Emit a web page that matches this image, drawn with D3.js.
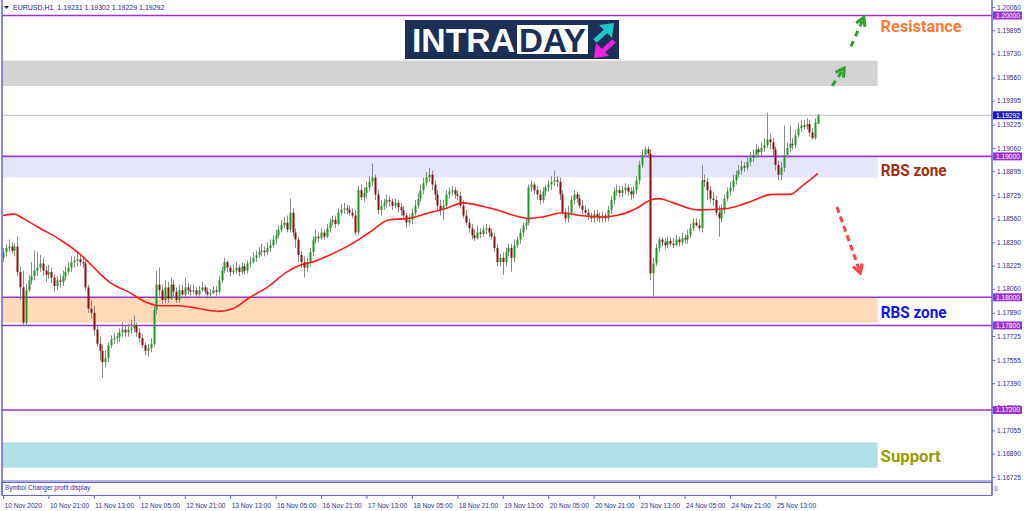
<!DOCTYPE html>
<html><head><meta charset="utf-8">
<script src="https://cdn.jsdelivr.net/npm/d3@7/dist/d3.min.js"></script>
<style>body{margin:0;background:#fff;}svg{display:block;}</style>
</head><body><svg id="c" width="1024" height="511"></svg>
<script>
// ---------------- data ----------------
const symbolTitle = "EURUSD,H1";
const lastQuote = [1.19231, 1.19302, 1.19229, 1.19292];
const timeLabels = ["10 Nov 2020","10 Nov 21:00","11 Nov 13:00","12 Nov 05:00","12 Nov 21:00","13 Nov 13:00","16 Nov 05:00","16 Nov 21:00","17 Nov 13:00","18 Nov 05:00","18 Nov 21:00","19 Nov 13:00","20 Nov 05:00","20 Nov 21:00","23 Nov 13:00","24 Nov 05:00","24 Nov 21:00","25 Nov 13:00"];
const barsPerLabel = 16;
const priceTicks = [1.20060,1.19895,1.19730,1.19560,1.19395,1.19225,1.19060,1.18895,1.18725,1.18560,1.18390,1.18225,1.18060,1.17890,1.17725,1.17555,1.17390,1.17220,1.17055,1.16890,1.16725];
const levelLines = [1.20000, 1.19000, 1.18000, 1.17800, 1.17200];
const zoneLow  = [1.1950, 1.1885, 1.1782, 1.1679];
const zoneHigh = [1.1968, 1.1900, 1.1800, 1.1697];
const zoneEndBar = 308;
const zoneLabels = ["Resistance", "RBS zone", "RBS zone", "Support"];
const zoneLabelPrice = [1.1988, 1.1886, 1.1785, 1.1683];
// [open, high, low, close]
const ohlc = [
[1.1828,1.1835,1.1825,1.1832],[1.1832,1.1838,1.1829,1.1835],[1.1835,1.1841,1.1832,1.1836],[1.1836,1.1839,1.1831,1.1833],[1.1833,1.1838,1.1829,1.1836],
[1.1836,1.1843,1.1815,1.1818],[1.1818,1.1822,1.1798,1.1807],[1.1807,1.1819,1.1780,1.1782],[1.1782,1.1810,1.1780,1.1805],[1.1805,1.1816,1.1804,1.1812],
[1.1812,1.1825,1.1809,1.1815],[1.1815,1.1833,1.1812,1.1819],[1.1819,1.1832,1.1815,1.1821],[1.1821,1.1830,1.1818,1.1824],[1.1824,1.1828,1.1815,1.1819],
[1.1819,1.1822,1.1811,1.1816],[1.1816,1.1823,1.1813,1.1818],[1.1818,1.1821,1.1810,1.1814],[1.1814,1.1816,1.1804,1.1808],[1.1808,1.1815,1.1805,1.1812],
[1.1812,1.1816,1.1807,1.1811],[1.1811,1.1819,1.1808,1.1815],[1.1815,1.1822,1.1812,1.1818],[1.1818,1.1825,1.1816,1.1821],[1.1821,1.1829,1.1818,1.1825],
[1.1825,1.1829,1.1821,1.1826],[1.1826,1.1831,1.1822,1.1827],[1.1827,1.1830,1.1822,1.1825],[1.1825,1.1828,1.1821,1.1824],[1.1824,1.1826,1.1805,1.1807],
[1.1807,1.1809,1.1789,1.1792],[1.1792,1.1798,1.1785,1.1789],[1.1789,1.1794,1.1773,1.1777],[1.1777,1.1780,1.1765,1.1767],[1.1767,1.1772,1.1755,1.1762],
[1.1762,1.1766,1.1743,1.1754],[1.1754,1.1762,1.1750,1.1757],[1.1757,1.1768,1.1754,1.1766],[1.1766,1.1773,1.1764,1.1770],[1.1770,1.1775,1.1767,1.1771],
[1.1771,1.1775,1.1767,1.1772],[1.1772,1.1778,1.1768,1.1775],[1.1775,1.1782,1.1772,1.1777],[1.1777,1.1780,1.1772,1.1775],[1.1775,1.1781,1.1772,1.1777],
[1.1777,1.1784,1.1774,1.1778],[1.1778,1.1787,1.1775,1.1780],[1.1780,1.1782,1.1772,1.1775],[1.1775,1.1778,1.1768,1.1771],[1.1771,1.1774,1.1764,1.1766],
[1.1766,1.1768,1.1759,1.1762],[1.1762,1.1767,1.1758,1.1764],[1.1764,1.1771,1.1761,1.1767],[1.1767,1.1794,1.1765,1.1791],[1.1791,1.1819,1.1788,1.1809],
[1.1809,1.1821,1.1801,1.1805],[1.1805,1.1809,1.1795,1.1798],[1.1798,1.1812,1.1796,1.1807],[1.1807,1.1811,1.1796,1.1799],[1.1799,1.1814,1.1798,1.1809],
[1.1809,1.1812,1.1801,1.1804],[1.1804,1.1807,1.1796,1.1798],[1.1798,1.1809,1.1796,1.1805],[1.1805,1.1809,1.1799,1.1802],[1.1802,1.1814,1.1799,1.1807],
[1.1807,1.1810,1.1802,1.1805],[1.1805,1.1809,1.1801,1.1804],[1.1804,1.1809,1.1802,1.1805],[1.1805,1.1807,1.1799,1.1802],[1.1802,1.1808,1.1800,1.1805],
[1.1805,1.1811,1.1804,1.1807],[1.1807,1.1809,1.1802,1.1804],[1.1804,1.1807,1.1799,1.1802],[1.1802,1.1806,1.1799,1.1803],[1.1803,1.1808,1.1802,1.1805],
[1.1805,1.1808,1.1801,1.1804],[1.1804,1.1815,1.1802,1.1812],[1.1812,1.1822,1.1810,1.1819],[1.1819,1.1828,1.1817,1.1825],[1.1825,1.1826,1.1818,1.1821],
[1.1821,1.1823,1.1815,1.1818],[1.1818,1.1823,1.1816,1.1819],[1.1819,1.1825,1.1817,1.1821],[1.1821,1.1823,1.1815,1.1818],[1.1818,1.1825,1.1816,1.1822],
[1.1822,1.1824,1.1816,1.1819],[1.1819,1.1826,1.1817,1.1824],[1.1824,1.1829,1.1821,1.1825],[1.1825,1.1832,1.1824,1.1828],[1.1828,1.1833,1.1825,1.1830],
[1.1830,1.1836,1.1828,1.1832],[1.1832,1.1838,1.1829,1.1833],[1.1833,1.1836,1.1829,1.1832],[1.1832,1.1839,1.1830,1.1835],[1.1835,1.1841,1.1832,1.1837],
[1.1837,1.1844,1.1835,1.1841],[1.1841,1.1848,1.1838,1.1844],[1.1844,1.1851,1.1842,1.1848],[1.1848,1.1855,1.1846,1.1851],[1.1851,1.1857,1.1849,1.1853],
[1.1853,1.1858,1.1846,1.1848],[1.1848,1.1870,1.1846,1.1860],[1.1860,1.1863,1.1843,1.1846],[1.1846,1.1849,1.1835,1.1841],[1.1841,1.1843,1.1825,1.1830],
[1.1830,1.1833,1.1821,1.1825],[1.1825,1.1829,1.1814,1.1821],[1.1821,1.1828,1.1818,1.1825],[1.1825,1.1835,1.1822,1.1832],[1.1832,1.1843,1.1829,1.1841],
[1.1841,1.1848,1.1838,1.1843],[1.1843,1.1846,1.1839,1.1842],[1.1842,1.1849,1.1841,1.1846],[1.1846,1.1848,1.1841,1.1843],[1.1843,1.1852,1.1842,1.1849],
[1.1849,1.1856,1.1846,1.1853],[1.1853,1.1858,1.1851,1.1855],[1.1855,1.1858,1.1849,1.1852],[1.1852,1.1863,1.1851,1.1860],[1.1860,1.1866,1.1858,1.1862],
[1.1862,1.1867,1.1859,1.1863],[1.1863,1.1866,1.1859,1.1862],[1.1862,1.1865,1.1858,1.1860],[1.1860,1.1863,1.1856,1.1858],[1.1858,1.1862,1.1844,1.1846],
[1.1846,1.1879,1.1844,1.1876],[1.1876,1.1880,1.1869,1.1871],[1.1871,1.1878,1.1868,1.1874],[1.1874,1.1882,1.1870,1.1878],[1.1878,1.1886,1.1875,1.1882],
[1.1882,1.1895,1.1879,1.1885],[1.1885,1.1887,1.1869,1.1873],[1.1873,1.1876,1.1859,1.1862],[1.1862,1.1869,1.1858,1.1865],[1.1865,1.1870,1.1862,1.1867],
[1.1867,1.1873,1.1863,1.1869],[1.1869,1.1872,1.1864,1.1868],[1.1868,1.1870,1.1862,1.1865],[1.1865,1.1870,1.1863,1.1867],[1.1867,1.1869,1.1860,1.1864],
[1.1864,1.1867,1.1858,1.1862],[1.1862,1.1865,1.1855,1.1858],[1.1858,1.1860,1.1849,1.1853],[1.1853,1.1859,1.1851,1.1855],[1.1855,1.1863,1.1852,1.1860],
[1.1860,1.1869,1.1858,1.1865],[1.1865,1.1874,1.1863,1.1870],[1.1870,1.1880,1.1868,1.1876],[1.1876,1.1885,1.1873,1.1881],[1.1881,1.1889,1.1879,1.1885],
[1.1885,1.1892,1.1882,1.1887],[1.1887,1.1890,1.1876,1.1880],[1.1880,1.1883,1.1869,1.1873],[1.1873,1.1876,1.1862,1.1865],[1.1865,1.1869,1.1858,1.1862],
[1.1862,1.1869,1.1855,1.1865],[1.1865,1.1876,1.1863,1.1873],[1.1873,1.1878,1.1870,1.1875],[1.1875,1.1879,1.1872,1.1876],[1.1876,1.1878,1.1870,1.1873],
[1.1873,1.1876,1.1869,1.1872],[1.1872,1.1875,1.1863,1.1865],[1.1865,1.1869,1.1856,1.1858],[1.1858,1.1862,1.1851,1.1853],[1.1853,1.1856,1.1846,1.1849],
[1.1849,1.1852,1.1841,1.1844],[1.1844,1.1848,1.1840,1.1842],[1.1842,1.1851,1.1841,1.1846],[1.1846,1.1849,1.1842,1.1845],[1.1845,1.1851,1.1843,1.1848],
[1.1848,1.1852,1.1845,1.1849],[1.1849,1.1851,1.1843,1.1846],[1.1846,1.1849,1.1841,1.1843],[1.1843,1.1846,1.1832,1.1835],[1.1835,1.1838,1.1822,1.1825],
[1.1825,1.1831,1.1822,1.1828],[1.1828,1.1832,1.1816,1.1825],[1.1825,1.1835,1.1822,1.1832],[1.1832,1.1838,1.1829,1.1835],[1.1835,1.1838,1.1818,1.1828],
[1.1828,1.1841,1.1825,1.1837],[1.1837,1.1843,1.1835,1.1841],[1.1841,1.1849,1.1838,1.1846],[1.1846,1.1853,1.1843,1.1851],[1.1851,1.1856,1.1848,1.1853],
[1.1853,1.1880,1.1851,1.1878],[1.1878,1.1883,1.1875,1.1880],[1.1880,1.1882,1.1873,1.1876],[1.1876,1.1879,1.1869,1.1873],[1.1873,1.1876,1.1866,1.1869],
[1.1869,1.1878,1.1867,1.1875],[1.1875,1.1880,1.1872,1.1878],[1.1878,1.1883,1.1875,1.1880],[1.1880,1.1886,1.1876,1.1882],[1.1882,1.1890,1.1879,1.1883],
[1.1883,1.1886,1.1878,1.1882],[1.1882,1.1885,1.1869,1.1873],[1.1873,1.1876,1.1858,1.1860],[1.1860,1.1863,1.1853,1.1856],[1.1856,1.1865,1.1853,1.1860],
[1.1860,1.1872,1.1858,1.1869],[1.1869,1.1876,1.1866,1.1873],[1.1873,1.1875,1.1867,1.1870],[1.1870,1.1873,1.1863,1.1865],[1.1865,1.1869,1.1859,1.1862],
[1.1862,1.1865,1.1858,1.1860],[1.1860,1.1863,1.1855,1.1858],[1.1858,1.1860,1.1853,1.1856],[1.1856,1.1862,1.1853,1.1859],[1.1859,1.1862,1.1854,1.1857],
[1.1857,1.1860,1.1853,1.1856],[1.1856,1.1861,1.1853,1.1858],[1.1858,1.1860,1.1853,1.1856],[1.1856,1.1865,1.1854,1.1862],[1.1862,1.1872,1.1859,1.1869],
[1.1869,1.1878,1.1866,1.1875],[1.1875,1.1880,1.1872,1.1876],[1.1876,1.1879,1.1871,1.1874],[1.1874,1.1879,1.1871,1.1876],[1.1876,1.1881,1.1873,1.1878],
[1.1878,1.1880,1.1872,1.1875],[1.1875,1.1878,1.1869,1.1873],[1.1873,1.1879,1.1870,1.1876],[1.1876,1.1886,1.1873,1.1883],[1.1883,1.1897,1.1880,1.1894],
[1.1894,1.1905,1.1892,1.1901],[1.1901,1.1907,1.1899,1.1905],[1.1905,1.1907,1.1899,1.1902],[1.1902,1.1905,1.1812,1.1817],[1.1817,1.1828,1.1799,1.1824],
[1.1824,1.1838,1.1822,1.1835],[1.1835,1.1843,1.1832,1.1841],[1.1841,1.1843,1.1836,1.1839],[1.1839,1.1842,1.1834,1.1837],[1.1837,1.1843,1.1835,1.1840],
[1.1840,1.1843,1.1836,1.1838],[1.1838,1.1842,1.1835,1.1837],[1.1837,1.1844,1.1836,1.1841],[1.1841,1.1843,1.1836,1.1839],[1.1839,1.1846,1.1837,1.1842],
[1.1842,1.1845,1.1838,1.1841],[1.1841,1.1848,1.1838,1.1844],[1.1844,1.1852,1.1842,1.1849],[1.1849,1.1856,1.1847,1.1853],[1.1853,1.1856,1.1850,1.1851],
[1.1851,1.1855,1.1847,1.1849],[1.1849,1.1894,1.1846,1.1883],[1.1883,1.1887,1.1878,1.1882],[1.1882,1.1885,1.1869,1.1876],[1.1876,1.1879,1.1867,1.1870],
[1.1870,1.1875,1.1865,1.1869],[1.1869,1.1872,1.1858,1.1860],[1.1860,1.1865,1.1843,1.1856],[1.1856,1.1866,1.1853,1.1862],[1.1862,1.1873,1.1859,1.1870],
[1.1870,1.1878,1.1868,1.1875],[1.1875,1.1882,1.1872,1.1878],[1.1878,1.1887,1.1875,1.1883],[1.1883,1.1890,1.1880,1.1887],[1.1887,1.1894,1.1885,1.1890],
[1.1890,1.1897,1.1887,1.1893],[1.1893,1.1896,1.1889,1.1892],[1.1892,1.1900,1.1890,1.1896],[1.1896,1.1903,1.1893,1.1899],[1.1899,1.1905,1.1896,1.1901],
[1.1901,1.1909,1.1899,1.1905],[1.1905,1.1907,1.1900,1.1903],[1.1903,1.1910,1.1900,1.1906],[1.1906,1.1913,1.1903,1.1908],[1.1908,1.1931,1.1906,1.1912],
[1.1912,1.1916,1.1905,1.1910],[1.1910,1.1913,1.1900,1.1905],[1.1905,1.1907,1.1890,1.1894],[1.1894,1.1897,1.1883,1.1887],[1.1887,1.1896,1.1883,1.1892],
[1.1892,1.1922,1.1889,1.1901],[1.1901,1.1910,1.1899,1.1906],[1.1906,1.1922,1.1903,1.1909],[1.1909,1.1913,1.1905,1.1908],[1.1908,1.1919,1.1906,1.1915],
[1.1915,1.1924,1.1913,1.1920],[1.1920,1.1926,1.1917,1.1922],[1.1922,1.1926,1.1919,1.1921],[1.1921,1.1927,1.1919,1.1923],[1.1923,1.1926,1.1914,1.1917],
[1.1917,1.1920,1.1912,1.1913],[1.1913,1.1927,1.1912,1.1924],[1.19231,1.19302,1.19229,1.19292]
];
// moving average read at bar indices: [bar, price]
const maPoints = [[0,1.1858],[4,1.1859],[7,1.1856],[13,1.1849],[20,1.1841],[28,1.1829],[34,1.1817],[38,1.1810],[44,1.1804],[51,1.1796],[55,1.1794],[62,1.1794],[69,1.1792],[76,1.1790],[81,1.1792],[87,1.1800],[93,1.1807],[100,1.1818],[105,1.1823],[109,1.1825],[115,1.1830],[122,1.1837],[129,1.1846],[136,1.1855],[143,1.1856],[150,1.1860],[156,1.1863],[162,1.1867],[168,1.1865],[174,1.1862],[180,1.1858],[185,1.1856],[190,1.1857],[197,1.1860],[203,1.1858],[211,1.1857],[216,1.1858],[223,1.1863],[228,1.1869],[231,1.1870],[236,1.1867],[245,1.1862],[255,1.1863],[262,1.1867],[271,1.1873],[277,1.1873],[282,1.1880],[287,1.1888]];
// arrows: [startBar, startPrice, endBar, endPrice]
const upArrows = [[292,1.1950,296,1.1962],[298.6,1.1978,303,1.1998]];
const downArrow = [293.7,1.1864,301.8,1.1818];

// ---------------- layout ----------------
const svg = d3.select("#c");
const L = 2, R = 992, T = 0, B = 481;
const frameCol = "#6464d8", txtCol = "#2a2a9a", lineCol = "#9a32d4";
const x = d3.scaleLinear().domain([0, ohlc.length - 1]).range([3, 818]);
const y = d3.scaleLinear().domain([1.16703, 1.20110]).range([480, 0]);
const fontAx = "'Liberation Sans', Arial, sans-serif";

svg.append("rect").attr("width",1024).attr("height",511).attr("fill","#fff");

// zones
const zoneFill = ["#d3d3d3", "#e6e6fa", "#ffdab9", "#b0e0e6"];
const zoneText = ["#ff7a33", "#a0300f", "#1414ee", "#999900"];
svg.append("g").selectAll("rect").data(zoneLow).join("rect")
  .attr("x", L).attr("width", (d)=> x(zoneEndBar) - L)
  .attr("y", (d,i)=> y(zoneHigh[i])).attr("height", (d,i)=> y(zoneLow[i]) - y(zoneHigh[i]))
  .attr("fill", (d,i)=> zoneFill[i]);

// current price line
svg.append("line").attr("x1",L).attr("x2",R).attr("y1",y(lastQuote[3])).attr("y2",y(lastQuote[3]))
  .attr("stroke","#bdbdbd").attr("stroke-width",1);

// level lines
svg.append("g").selectAll("line").data(levelLines).join("line")
  .attr("x1",L).attr("x2",R).attr("y1",d=>y(d)).attr("y2",d=>y(d))
  .attr("stroke",lineCol).attr("stroke-width",1.6);

// candles
const cg = svg.append("g");
ohlc.forEach((d,i)=>{
  const cx = Math.round(x(i));
  cg.append("line").attr("x1",cx+0.5).attr("x2",cx+0.5).attr("y1",y(d[1])).attr("y2",y(d[2]))
    .attr("stroke","#8a8a8a").attr("stroke-width",1);
  const top = y(Math.max(d[0],d[3])), bot = y(Math.min(d[0],d[3]));
  const up = d[3] >= d[0];
  cg.append("rect").attr("x",cx-0.5).attr("width",2).attr("y",top).attr("height",Math.max(1,bot-top))
    .attr("fill", up ? "#1e9a1e" : "#8b0f0f");
});

// moving average
svg.append("path").datum(maPoints)
  .attr("d", d3.line().x(d=>x(d[0])).y(d=>y(d[1])).curve(d3.curveMonotoneX))
  .attr("fill","none").attr("stroke","#ff1a1a").attr("stroke-width",1.6);

// arrows
const defs = svg.append("defs");
function marker(id, col){
  defs.append("marker").attr("id",id).attr("viewBox","0 0 10 10").attr("refX",7).attr("refY",5)
    .attr("markerWidth",4).attr("markerHeight",4).attr("orient","auto")
    .append("path").attr("d","M1,1 L8,5 L1,9").attr("fill","none").attr("stroke",col).attr("stroke-width",2.5);
}
marker("mg","#2aa52a"); marker("mr","#ff4040");
upArrows.forEach(a=>{
  svg.append("line").attr("x1",x(a[0])).attr("y1",y(a[1])).attr("x2",x(a[2])).attr("y2",y(a[3]))
    .attr("stroke","#2aa52a").attr("stroke-width",3).attr("stroke-dasharray","6,5").attr("marker-end","url(#mg)");
});
svg.append("line").attr("x1",x(downArrow[0])).attr("y1",y(downArrow[1])).attr("x2",x(downArrow[2])).attr("y2",y(downArrow[3]))
  .attr("stroke","#ff4040").attr("stroke-width",3).attr("stroke-dasharray","6,4").attr("marker-end","url(#mr)");

// zone labels
svg.append("g").selectAll("text").data(zoneLabels).join("text")
  .attr("x", x(zoneEndBar) + 3).attr("y", (d,i)=> y(zoneLabelPrice[i]))
  .attr("fill",(d,i)=>zoneText[i])
  .attr("font-family","Roboto, 'Liberation Sans', sans-serif").attr("font-weight",700).attr("font-size",16)
  .attr("textLength",(d,i)=> [81,66,66,60][i]).attr("lengthAdjust","spacingAndGlyphs")
  .text(d=>d);

// frame
svg.append("line").attr("x1",L).attr("x2",L).attr("y1",T).attr("y2",495).attr("stroke",frameCol).attr("stroke-width",1.5);
svg.append("line").attr("x1",R).attr("x2",R).attr("y1",T).attr("y2",495).attr("stroke",frameCol).attr("stroke-width",1.5);
svg.append("line").attr("x1",L).attr("x2",R).attr("y1",B).attr("y2",B).attr("stroke",frameCol).attr("stroke-width",1);

// right price axis
const ax = svg.append("g").attr("transform",`translate(${R},0)`)
  .call(d3.axisRight(y).tickValues(priceTicks).tickFormat(d3.format(".5f")).tickSize(3).tickPadding(2));
ax.select(".domain").remove();
ax.selectAll("line").attr("stroke",frameCol);
ax.selectAll("text").attr("fill",txtCol).attr("font-family",fontAx).attr("font-size",6.6);

// price label boxes (cover the axis labels they sit on, as in the terminal)
const boxes = levelLines.map(v=>({v, c:lineCol})).concat([{v:lastQuote[3], c:"#1b1bc8"}]);
const bg = svg.append("g");
boxes.forEach(b=>{
  bg.append("rect").attr("x",R+1).attr("y",y(b.v)-4).attr("width",29).attr("height",8).attr("fill",b.c);
  bg.append("text").attr("x",R+4).attr("y",y(b.v)+2.4).attr("fill","#fff").attr("font-family",fontAx)
    .attr("font-size",6.6).text(d3.format(".5f")(b.v));
});

// sub window
svg.append("rect").attr("x",L).attr("y",B+1.5).attr("width",R-L).attr("height",13).attr("fill","none").attr("stroke",frameCol).attr("stroke-width",1);
svg.append("text").attr("x",5).attr("y",490).attr("fill",txtCol).attr("font-family",fontAx).attr("font-size",6.4).text("Symbol Changer profit display");
svg.append("text").attr("x",994).attr("y",491).attr("fill","#8080d0").attr("font-family",fontAx).attr("font-size",7).text("8");

// time axis
const tx = svg.append("g").attr("transform","translate(0,495)")
  .call(d3.axisBottom(x).tickValues(d3.range(0, ohlc.length, barsPerLabel)).tickFormat((d,i)=>timeLabels[i]).tickSize(4).tickPadding(4));
tx.select(".domain").remove();
tx.selectAll("line").attr("stroke",frameCol);
tx.selectAll("text").attr("text-anchor","start").attr("dx",1).attr("fill",txtCol).attr("font-family",fontAx).attr("font-size",6.6);

// header
svg.append("path").attr("d","M4,6 L9,6 L6.5,9 Z").attr("fill","#1c1c8c");
svg.append("text").attr("x",13).attr("y",10).attr("fill","#1c1c8c").attr("font-family",fontAx).attr("font-size",7)
  .attr("xml:space","preserve").text(symbolTitle + "  " + lastQuote.map(d3.format(".5f")).join(" "));

// logo
const lg = svg.append("g");
lg.append("rect").attr("x",405).attr("y",20).attr("width",214).attr("height",39).attr("fill","#1c2f56");
lg.append("text").attr("x",412).attr("y",52).attr("fill","#fff").attr("font-family","'Liberation Sans', Arial, sans-serif")
  .attr("font-weight",700).attr("font-size",33).attr("textLength",103).attr("lengthAdjust","spacingAndGlyphs").text("INTRA");
lg.append("rect").attr("x",517).attr("y",25).attr("width",71).attr("height",29).attr("fill","#fff");
lg.append("text").attr("x",519).attr("y",52).attr("fill","#1c2f56").attr("font-family","'Liberation Sans', Arial, sans-serif")
  .attr("font-weight",700).attr("font-size",33).attr("textLength",67).attr("lengthAdjust","spacingAndGlyphs").text("DAY");
lg.append("line").attr("x1",595).attr("y1",41).attr("x2",606).attr("y2",31).attr("stroke","#1ec9c9").attr("stroke-width",5);
lg.append("path").attr("d","M614,23 L599,25 L612,38 Z").attr("fill","#1ec9c9");
lg.append("line").attr("x1",614).attr("y1",41).attr("x2",603).attr("y2",51).attr("stroke","#ee22dd").attr("stroke-width",5);
lg.append("path").attr("d","M594,58 L609,56 L596,43 Z").attr("fill","#ee22dd");
</script></body></html>
